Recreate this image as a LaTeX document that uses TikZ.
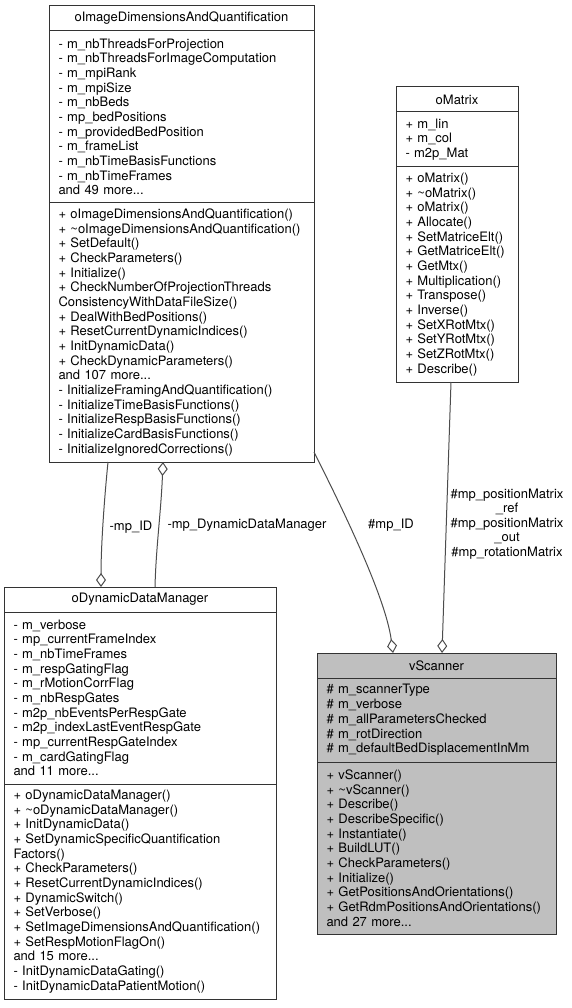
\documentclass[tikz,border=0pt]{standalone}
\usepackage{fontspec}
\setmainfont{TeX Gyre Heros}
\usetikzlibrary{positioning,arrows.meta}

\begin{document}
\begin{tikzpicture}[x=1pt,y=-1pt,
  box/.style={draw=black!80, line width=1pt, outer sep=0pt, inner xsep=9.5pt, inner ysep=0pt, font=\fontsize{13}{14.67}\selectfont},
  cname/.style={box, minimum height=25pt, anchor=north west, align=center},
  cpart/.style 2 args={box, below=0pt of #1, text width=#2, align=left},
  aggr/.style={draw=black!70, line width=1pt, -{Diamond[open,length=14pt,width=10pt]}},
  elabel/.style={font=\fontsize{13}{14.5}\selectfont, align=center, inner sep=0pt}]
\useasboundingbox (0,0) rectangle (571,1008);

\node[cname, minimum width=265pt] (imgT) at (49,6) {oImageDimensionsAndQuantification};
\node[cpart={imgT}{246pt}, minimum height=172pt] (imgA) {-~m\_nbThreadsForProjection\\-~m\_nbThreadsForImageComputation\\-~m\_mpiRank\\-~m\_mpiSize\\-~m\_nbBeds\\-~mp\_bedPositions\\-~m\_providedBedPosition\\-~m\_frameList\\-~m\_nbTimeBasisFunctions\\-~m\_nbTimeFrames\\and 49 more...};
\node[cpart={imgA}{246pt}, minimum height=259pt] (imgM) {+~oImageDimensionsAndQuantification()\\+~\textasciitilde oImageDimensionsAndQuantification()\\+~SetDefault()\\+~CheckParameters()\\+~Initialize()\\+~CheckNumberOfProjectionThreads\\ConsistencyWithDataFileSize()\\+~DealWithBedPositions()\\+~ResetCurrentDynamicIndices()\\+~InitDynamicData()\\+~CheckDynamicParameters()\\and 107 more...\\-~InitializeFramingAndQuantification()\\-~InitializeTimeBasisFunctions()\\-~InitializeRespBasisFunctions()\\-~InitializeCardBasisFunctions()\\-~InitializeIgnoredCorrections()};

\node[cname, minimum width=122pt] (matT) at (396,87) {oMatrix};
\node[cpart={matT}{103pt}, minimum height=55pt] (matA) {+~m\_lin\\+~m\_col\\-~m2p\_Mat};
\node[cpart={matA}{103pt}, minimum height=215pt] (matM) {+~oMatrix()\\+~\textasciitilde oMatrix()\\+~oMatrix()\\+~Allocate()\\+~SetMatriceElt()\\+~GetMatriceElt()\\+~GetMtx()\\+~Multiplication()\\+~Transpose()\\+~Inverse()\\+~SetXRotMtx()\\+~SetYRotMtx()\\+~SetZRotMtx()\\+~Describe()};

\node[cname, minimum width=272pt] (ddmT) at (4,587) {oDynamicDataManager};
\node[cpart={ddmT}{253pt}, minimum height=172pt] (ddmA) {-~m\_verbose\\-~mp\_currentFrameIndex\\-~m\_nbTimeFrames\\-~m\_respGatingFlag\\-~m\_rMotionCorrFlag\\-~m\_nbRespGates\\-~m2p\_nbEventsPerRespGate\\-~m2p\_indexLastEventRespGate\\-~mp\_currentRespGateIndex\\-~m\_cardGatingFlag\\and 11 more...};
\node[cpart={ddmA}{253pt}, minimum height=215pt] (ddmM) {+~oDynamicDataManager()\\+~\textasciitilde oDynamicDataManager()\\+~InitDynamicData()\\+~SetDynamicSpecificQuantification\\Factors()\\+~CheckParameters()\\+~ResetCurrentDynamicIndices()\\+~DynamicSwitch()\\+~SetVerbose()\\+~SetImageDimensionsAndQuantification()\\+~SetRespMotionFlagOn()\\and 15 more...\\-~InitDynamicDataGating()\\-~InitDynamicDataPatientMotion()};

\node[cname, minimum width=239pt, fill=gray!50] (scnT) at (317,653) {vScanner};
\node[cpart={scnT}{220pt}, minimum height=84pt, fill=gray!50] (scnA) {\#~m\_scannerType\\\#~m\_verbose\\\#~m\_allParametersChecked\\\#~m\_rotDirection\\\#~m\_defaultBedDisplacementInMm};
\node[cpart={scnA}{220pt}, minimum height=172pt, fill=gray!50] (scnM) {+~vScanner()\\+~\textasciitilde vScanner()\\+~Describe()\\+~DescribeSpecific()\\+~Instantiate()\\+~BuildLUT()\\+~CheckParameters()\\+~Initialize()\\+~GetPositionsAndOrientations()\\+~GetRdmPositionsAndOrientations()\\and 27 more...};

\draw[aggr] ([xshift=59pt]imgM.south west) .. controls +(-4,40) and +(0,-40) .. ([xshift=97pt]ddmT.north west);
\draw[aggr] ([xshift=151pt]ddmT.north west) .. controls +(1,-40) and +(-2,50) .. ([xshift=114pt]imgM.south west);
\draw[aggr] ([yshift=10pt]imgM.south east) .. controls +(20,40) and +(-8,-60) .. ([xshift=76pt]scnT.north west);
\draw[aggr] ([xshift=55pt]matM.south west) -- ([xshift=125pt]scnT.north west);

\node[elabel] (lblDdmID) at (131,527) {-mp\_ID};
\node[elabel] (lblDdm) at (247,525) {-mp\_DynamicDataManager};
\node[elabel] (lblScnID) at (391,525) {\#mp\_ID};
\node[elabel] (lblMtx) at (507,524) {\#mp\_positionMatrix\\\_ref\\\#mp\_positionMatrix\\\_out\\\#mp\_rotationMatrix};
\end{tikzpicture}
\end{document}
